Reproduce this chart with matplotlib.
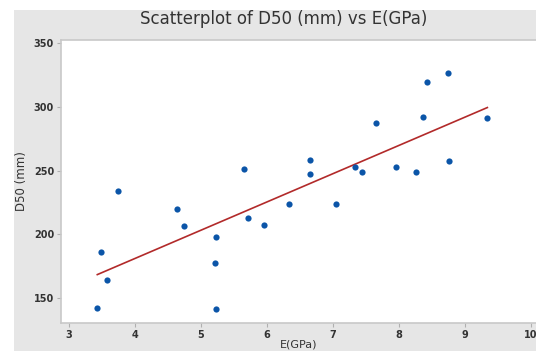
import numpy as np
import matplotlib
matplotlib.use("Agg")
import matplotlib.pyplot as plt

# E (GPa) and D50 (mm)
e_gpa = [3.43, 3.48, 3.58, 3.74, 4.63, 4.74, 5.23, 5.22, 5.23, 5.65,
         5.72, 5.96, 6.33, 6.65, 6.65, 7.05, 7.33, 7.44, 7.65, 7.95,
         8.26, 8.37, 8.42, 8.74, 8.76, 9.34]
d50_mm = [142.4, 186.4, 163.9, 233.9, 219.7, 206.3, 197.6, 177.2, 141.3, 251.4,
          212.8, 207.3, 223.6, 258.1, 246.9, 223.6, 253.1, 249.2, 287.2, 253.1,
          249.2, 292.1, 319.1, 326.8, 257.1, 291.6]

xticks = [3, 4, 5, 6, 7, 8, 9, 10]
yticks = [150, 200, 250, 300, 350]

x = np.array(e_gpa)
y = np.array(d50_mm)

# least squares line
b, a = np.polyfit(x, y, 1)
xs = np.array([x.min(), x.max()])

W, H = 536, 351
fig = plt.figure(figsize=(W / 100, H / 100), dpi=100)
fig.patch.set_facecolor("white")

# grey panel behind the chart
fig.patches.append(plt.Rectangle((14 / W, 0), 1, 1 - 10 / H, transform=fig.transFigure,
                                 facecolor="#e6e6e6", edgecolor="none", zorder=-5))

ax = fig.add_axes([61 / W, (H - 323) / H, (W - 61) / W, 283 / H])
ax.set_zorder(2)
ax.set_facecolor("white")

ax.scatter(x, y, s=20, color="#0b55a8", zorder=3, linewidths=0)
ax.plot(xs, a + b * xs, color="#b22a2a", linewidth=1.2, zorder=2)

ax.set_xlim(2.88, 2.88 + (W - 61) / 66)
ax.set_ylim(130.4, 352.4)
ax.set_xticks(xticks)
ax.set_yticks(yticks)

for side in ["left", "bottom", "top"]:
    ax.spines[side].set_color("#c8c8c8")
    ax.spines[side].set_linewidth(1.2)
ax.spines["right"].set_visible(False)
ax.tick_params(length=3, width=0.8, color="#b0b0b0", labelsize=7, labelcolor="#333333", pad=2)
for lbl in ax.get_xticklabels() + ax.get_yticklabels():
    lbl.set_fontweight("bold")

ax.set_ylabel("D50 (mm)", fontsize=8.5, color="#333333", labelpad=4)
ax.set_xlabel("E(GPa)", fontsize=8, color="#333333", labelpad=0)

fig.text(284 / W, 1 - 19 / H, "Scatterplot of D50 (mm) vs E(GPa)", ha="center", va="center",
         fontsize=12, color="#333333")

fig.savefig("out.png", dpi=100)
